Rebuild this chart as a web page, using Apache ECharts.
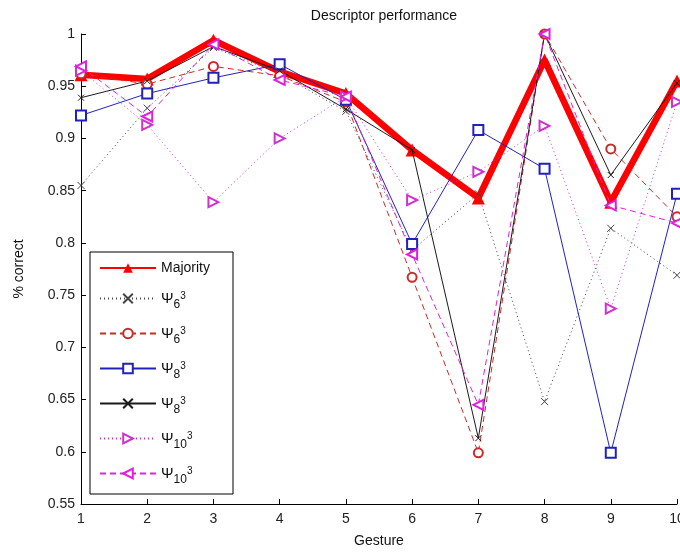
<!DOCTYPE html>
<html>
<head>
<meta charset="utf-8">
<script src="https://cdn.jsdelivr.net/npm/echarts@6/dist/echarts.min.js"></script>
<style>
  html, body { margin: 0; padding: 0; background: #fff; }
  #chart { width: 680px; height: 554px; }
</style>
</head>
<body>
<div id="chart"></div>
<script>
// Gesture indices along the x axis
const gestures = [1, 2, 3, 4, 5, 6, 7, 8, 9, 10];

// Fraction of correct classifications per gesture
const majority      = [0.961, 0.957, 0.994, 0.964, 0.943, 0.889, 0.843, 0.975, 0.839, 0.955];
const psi6Dotted    = [0.855, 0.929, 0.987, 0.962, 0.926, 0.793, 0.847, 0.648, 0.814, 0.769];
const psi6Dashed    = [0.962, 0.952, 0.969, 0.960, 0.935, 0.767, 0.599, 1.000, 0.890, 0.825];
const psi8Square    = [0.922, 0.943, 0.958, 0.971, 0.937, 0.799, 0.908, 0.871, 0.599, 0.847];
const psi8Solid     = [0.939, 0.955, 0.988, 0.965, 0.928, 0.889, 0.613, 1.000, 0.865, 0.953];
const psi10Dotted   = [0.965, 0.913, 0.839, 0.900, 0.940, 0.841, 0.868, 0.912, 0.737, 0.935];
const psi10Dashed   = [0.969, 0.921, 0.990, 0.956, 0.940, 0.789, 0.645, 1.000, 0.836, 0.819];

// Y tick range
const yMin = 0.55, yMax = 1, yStep = 0.05;

// Legend captions (rich text: Ψ with subscript and superscript)
const captions = {
  majority: 'Majority',
  psi6Dotted: '{p|Ψ}{b|6}{t|3}',
  psi6Dashed: '{p|Ψ}{b|6}{t|3}',
  psi8Square: '{p|Ψ}{b|8}{t|3}',
  psi8Solid: '{p|Ψ}{b|8}{t|3}',
  psi10Dotted: '{p|Ψ}{b|10}{t|3}',
  psi10Dashed: '{p|Ψ}{b|10}{t|3}'
};

const pairs = vals => gestures.map((g, i) => [g, vals[i]]);
const cross = 'path://M0,0L10,10M10,0L0,10';
const FONT = 'Liberation Sans, Arial, sans-serif';

const chart = echarts.init(document.getElementById('chart'), null, { renderer: 'canvas' });

const thin = (name, vals, color, dash, symbol, extra) => Object.assign({
  name: name,
  type: 'line',
  data: pairs(vals),
  symbol: symbol,
  symbolSize: 9,
  showSymbol: true,
  lineStyle: { color: color, width: 1, type: dash },
  itemStyle: { color: color, borderColor: color, borderWidth: 1 },
  emphasis: { disabled: true },
  animation: false,
  z: 3
}, extra || {});

chart.setOption({
  backgroundColor: '#fff',
  animation: false,
  title: {
    text: 'Descriptor performance',
    left: 379, top: 4, textAlign: 'center',
    textStyle: { fontFamily: FONT, fontSize: 14, fontWeight: 'normal', color: '#111' }
  },
  grid: { left: 81, right: 3, top: 34, bottom: 50, containLabel: false, outerBoundsMode: 'none' },
  xAxis: {
    type: 'value', min: 1, max: 10, interval: 1,
    name: 'Gesture', nameLocation: 'middle', nameGap: 30,
    nameTextStyle: { fontFamily: FONT, fontSize: 14, color: '#111' },
    axisLine: { lineStyle: { color: '#000', width: 1 } },
    axisTick: { inside: true, length: 5, lineStyle: { color: '#000' } },
    axisLabel: { fontFamily: FONT, fontSize: 14, color: '#222', margin: 8 },
    splitLine: { show: false }
  },
  yAxis: {
    type: 'value', min: yMin, max: yMax, interval: yStep,
    name: '% correct', nameLocation: 'middle', nameGap: 55, nameRotate: 90,
    nameTextStyle: { fontFamily: FONT, fontSize: 14, color: '#111' },
    axisLine: { show: true, lineStyle: { color: '#000', width: 1 } },
    axisTick: { show: true, inside: true, length: 5, lineStyle: { color: '#000' } },
    axisLabel: {
      fontFamily: FONT, fontSize: 14, color: '#222', margin: 6,
      formatter: v => String(+v.toFixed(2))
    },
    splitLine: { show: false }
  },
  legend: {
    orient: 'vertical', left: 90, top: 252,
    padding: [8, 23, 8, 9],
    itemGap: 10, itemWidth: 56, itemHeight: 12,
    borderColor: '#000', borderWidth: 1, backgroundColor: '#fff',
    data: ['majority', 'psi6Dotted', 'psi6Dashed', 'psi8Square', 'psi8Solid', 'psi10Dotted', 'psi10Dashed'],
    formatter: name => captions[name],
    textStyle: {
      fontFamily: FONT, fontSize: 14, color: '#111', lineHeight: 16,
      rich: {
        p: { fontFamily: FONT, fontSize: 15, color: '#111', lineHeight: 25, verticalAlign: 'middle' },
        b: { fontFamily: FONT, fontSize: 12, color: '#111', lineHeight: 16, verticalAlign: 'bottom' },
        t: { fontFamily: FONT, fontSize: 10, color: '#111', lineHeight: 12, verticalAlign: 'middle', padding: [0, 0, 4, 0] }
      }
    }
  },
  series: [
    {
      name: 'majority', type: 'line', data: pairs(majority),
      symbol: 'triangle', symbolSize: 13,
      lineStyle: { color: '#ff0000', width: 6.5 },
      itemStyle: { color: '#ff0000' },
      emphasis: { disabled: true }, z: 2
    },
    thin('psi6Dotted', psi6Dotted, '#444444', [1, 3], cross, { symbolSize: 7 }),
    thin('psi6Dashed', psi6Dashed, '#cc2a2a', [6, 4], 'emptyCircle'),
    thin('psi8Square', psi8Square, '#2222bb', 'solid', 'emptyRect', { symbolSize: 10 }),
    thin('psi8Solid', psi8Solid, '#1a1a1a', 'solid', cross, { symbolSize: 6 }),
    thin('psi10Dotted', psi10Dotted, '#d030d0', [1, 3], 'emptyTriangle', { symbolRotate: -90, symbolSize: 10 }),
    thin('psi10Dashed', psi10Dashed, '#e020e0', [6, 4], 'emptyTriangle', { symbolRotate: 90, symbolSize: 10 })
  ]
});
</script>
</body>
</html>
